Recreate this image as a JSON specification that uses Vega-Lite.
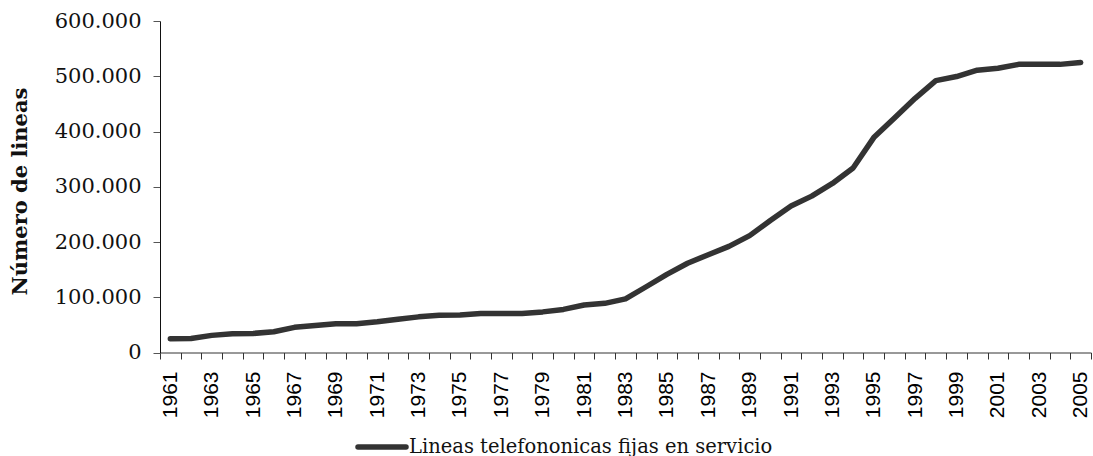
{
  "$schema": "https://vega.github.io/schema/vega-lite/v6.json",
  "width": 931,
  "height": 331.5,
  "autosize": {"type": "none"},
  "padding": {"left": 160, "top": 21, "right": 2, "bottom": 103.5},
  "background": "white",
  "config": {"view": {"stroke": null}},
  "data": {
    "values": [
      {"year": 1961, "lines": 25000, "series": "Lineas telefononicas fijas en servicio"},
      {"year": 1962, "lines": 25500, "series": "Lineas telefononicas fijas en servicio"},
      {"year": 1963, "lines": 31000, "series": "Lineas telefononicas fijas en servicio"},
      {"year": 1964, "lines": 34000, "series": "Lineas telefononicas fijas en servicio"},
      {"year": 1965, "lines": 34500, "series": "Lineas telefononicas fijas en servicio"},
      {"year": 1966, "lines": 37500, "series": "Lineas telefononicas fijas en servicio"},
      {"year": 1967, "lines": 45500, "series": "Lineas telefononicas fijas en servicio"},
      {"year": 1968, "lines": 49000, "series": "Lineas telefononicas fijas en servicio"},
      {"year": 1969, "lines": 52000, "series": "Lineas telefononicas fijas en servicio"},
      {"year": 1970, "lines": 52000, "series": "Lineas telefononicas fijas en servicio"},
      {"year": 1971, "lines": 55500, "series": "Lineas telefononicas fijas en servicio"},
      {"year": 1972, "lines": 60000, "series": "Lineas telefononicas fijas en servicio"},
      {"year": 1973, "lines": 64500, "series": "Lineas telefononicas fijas en servicio"},
      {"year": 1974, "lines": 67500, "series": "Lineas telefononicas fijas en servicio"},
      {"year": 1975, "lines": 68000, "series": "Lineas telefononicas fijas en servicio"},
      {"year": 1976, "lines": 70500, "series": "Lineas telefononicas fijas en servicio"},
      {"year": 1977, "lines": 70500, "series": "Lineas telefononicas fijas en servicio"},
      {"year": 1978, "lines": 70500, "series": "Lineas telefononicas fijas en servicio"},
      {"year": 1979, "lines": 73500, "series": "Lineas telefononicas fijas en servicio"},
      {"year": 1980, "lines": 78000, "series": "Lineas telefononicas fijas en servicio"},
      {"year": 1981, "lines": 86000, "series": "Lineas telefononicas fijas en servicio"},
      {"year": 1982, "lines": 89000, "series": "Lineas telefononicas fijas en servicio"},
      {"year": 1983, "lines": 97000, "series": "Lineas telefononicas fijas en servicio"},
      {"year": 1984, "lines": 119000, "series": "Lineas telefononicas fijas en servicio"},
      {"year": 1985, "lines": 141500, "series": "Lineas telefononicas fijas en servicio"},
      {"year": 1986, "lines": 161500, "series": "Lineas telefononicas fijas en servicio"},
      {"year": 1987, "lines": 177000, "series": "Lineas telefononicas fijas en servicio"},
      {"year": 1988, "lines": 192000, "series": "Lineas telefononicas fijas en servicio"},
      {"year": 1989, "lines": 211500, "series": "Lineas telefononicas fijas en servicio"},
      {"year": 1990, "lines": 239000, "series": "Lineas telefononicas fijas en servicio"},
      {"year": 1991, "lines": 265000, "series": "Lineas telefononicas fijas en servicio"},
      {"year": 1992, "lines": 283000, "series": "Lineas telefononicas fijas en servicio"},
      {"year": 1993, "lines": 306000, "series": "Lineas telefononicas fijas en servicio"},
      {"year": 1994, "lines": 334000, "series": "Lineas telefononicas fijas en servicio"},
      {"year": 1995, "lines": 389000, "series": "Lineas telefononicas fijas en servicio"},
      {"year": 1996, "lines": 424500, "series": "Lineas telefononicas fijas en servicio"},
      {"year": 1997, "lines": 460000, "series": "Lineas telefononicas fijas en servicio"},
      {"year": 1998, "lines": 492000, "series": "Lineas telefononicas fijas en servicio"},
      {"year": 1999, "lines": 499500, "series": "Lineas telefononicas fijas en servicio"},
      {"year": 2000, "lines": 511000, "series": "Lineas telefononicas fijas en servicio"},
      {"year": 2001, "lines": 514500, "series": "Lineas telefononicas fijas en servicio"},
      {"year": 2002, "lines": 521500, "series": "Lineas telefononicas fijas en servicio"},
      {"year": 2003, "lines": 521500, "series": "Lineas telefononicas fijas en servicio"},
      {"year": 2004, "lines": 521500, "series": "Lineas telefononicas fijas en servicio"},
      {"year": 2005, "lines": 525000, "series": "Lineas telefononicas fijas en servicio"}
    ]
  },
  "mark": {"type": "line", "strokeWidth": 5.5, "strokeCap": "round", "strokeJoin": "round"},
  "encoding": {
    "x": {
      "field": "year",
      "type": "ordinal",
      "scale": {"type": "band", "paddingInner": 0, "paddingOuter": 0},
      "axis": {
        "title": null,
        "labelAngle": 270,
        "labelAlign": "right",
        "labelBaseline": "middle",
        "labelFont": "Liberation Sans",
        "labelFontSize": 21,
        "labelColor": "black",
        "labelPadding": 12,
        "labelOverlap": false,
        "labelExpr": "datum.value % 2 == 1 ? datum.label : ''",
        "tickSize": 6.5,
        "tickBand": "extent",
        "tickColor": "#333333",
        "domainColor": "#333333",
        "grid": false
      }
    },
    "y": {
      "field": "lines",
      "type": "quantitative",
      "scale": {"domain": [0, 600000], "nice": false},
      "axis": {
        "title": "Número de lineas",
        "values": [0, 100000, 200000, 300000, 400000, 500000, 600000],
        "labelExpr": "replace(format(datum.value, ','), ',', '.')",
        "labelFont": "DejaVu Serif",
        "labelFontSize": 21,
        "labelColor": "#111111",
        "labelPadding": 12,
        "tickSize": 7,
        "tickColor": "#555555",
        "domainColor": "#111111",
        "grid": false,
        "titleFont": "DejaVu Serif",
        "titleFontWeight": "bold",
        "titleFontSize": 21,
        "titleColor": "#111111",
        "titleX": -140,
        "titleY": 170,
        "titleAngle": 270,
        "titleAlign": "center",
        "titleBaseline": "middle"
      }
    },
    "color": {
      "field": "series",
      "type": "nominal",
      "scale": {"range": ["#333333"]},
      "legend": {
        "title": null,
        "orient": "none",
        "legendX": 195,
        "legendY": 399,
        "direction": "horizontal",
        "symbolType": "stroke",
        "symbolSize": 2304,
        "symbolStrokeWidth": 5.5,
        "symbolStrokeColor": "#333333",
        "labelFont": "DejaVu Serif",
        "labelFontSize": 19.5,
        "labelColor": "#111111",
        "labelOffset": 0,
        "labelLimit": 600,
        "labelBaseline": "middle",
        "encode": {
          "symbols": {"update": {"strokeWidth": {"value": 5.5}, "strokeCap": {"value": "round"}}}
        }
      }
    }
  }
}
